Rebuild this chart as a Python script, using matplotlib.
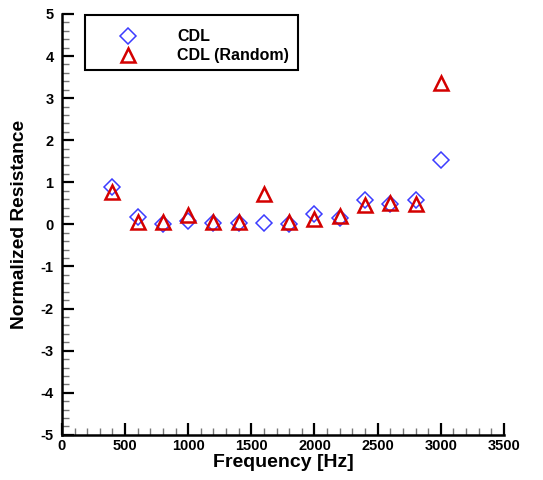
import matplotlib
matplotlib.use("Agg")
import matplotlib.pyplot as plt
from matplotlib.ticker import MultipleLocator
from matplotlib.patches import Rectangle

plt.rcParams['font.family'] = ['Liberation Sans', 'DejaVu Sans']
plt.rcParams['axes.unicode_minus'] = False

freq = [400, 600, 800, 1000, 1200, 1400, 1600, 1800, 2000, 2200, 2400, 2600, 2800, 3000]
cdl = [0.88, 0.18, 0.01, 0.07, 0.04, 0.04, 0.04, 0.02, 0.24, 0.15, 0.59, 0.48, 0.57, 1.53]
cdl_random = [0.76, 0.06, 0.05, 0.22, 0.05, 0.05, 0.72, 0.05, 0.12, 0.21, 0.45, 0.51, 0.49, 3.35]

fig = plt.figure(figsize=(5.43, 4.8), dpi=100)
ax = fig.add_axes([0.114, 0.094, 0.814, 0.877])

ax.plot(freq, cdl, linestyle='none', marker='D', markersize=8.5,
        markerfacecolor='none', markeredgecolor='#3c3cff', markeredgewidth=1.1,
        label='CDL')
ax.plot(freq, cdl_random, linestyle='none', marker='^', markersize=10.5,
        markerfacecolor='none', markeredgecolor='#d40000', markeredgewidth=1.8,
        label='CDL (Random)')

ax.set_xlim(0, 3500)
ax.set_ylim(-5, 5)
ax.xaxis.set_major_locator(MultipleLocator(500))
ax.xaxis.set_minor_locator(MultipleLocator(100))
ax.yaxis.set_major_locator(MultipleLocator(1))
ax.yaxis.set_minor_locator(MultipleLocator(0.2))

for s in ['top', 'right']:
    ax.spines[s].set_visible(False)
for s in ['left', 'bottom']:
    ax.spines[s].set_linewidth(1.8)

ax.tick_params(which='major', direction='in', length=8.5, width=1.6, labelsize=10.5)
ax.tick_params(which='minor', direction='in', length=5, width=1.0, color='#777777')
ax.tick_params(axis='x', pad=3)
ax.tick_params(axis='y', pad=6)
for lab in ax.get_xticklabels() + ax.get_yticklabels():
    lab.set_fontweight('bold')

ax.set_xlabel('Frequency [Hz]', fontsize=14, fontweight='bold', labelpad=1)
ax.set_ylabel('Normalized Resistance', fontsize=13.8, fontweight='bold', labelpad=9)

# legend frame (Tecplot-style box)
ax.add_patch(Rectangle((0.052, 0.867), 0.482, 0.131, transform=ax.transAxes,
                       facecolor='white', edgecolor='black', linewidth=1.5,
                       zorder=4, clip_on=False))
leg = ax.legend(loc='center left', bbox_to_anchor=(0.071, 0.923), borderaxespad=0,
                frameon=False, numpoints=1,
                prop={'weight': 'bold', 'size': 11.5}, handletextpad=0.97,
                borderpad=0, labelspacing=0.25, handlelength=4.3)
leg.set_zorder(5)

fig.savefig('out.png', dpi=100)
